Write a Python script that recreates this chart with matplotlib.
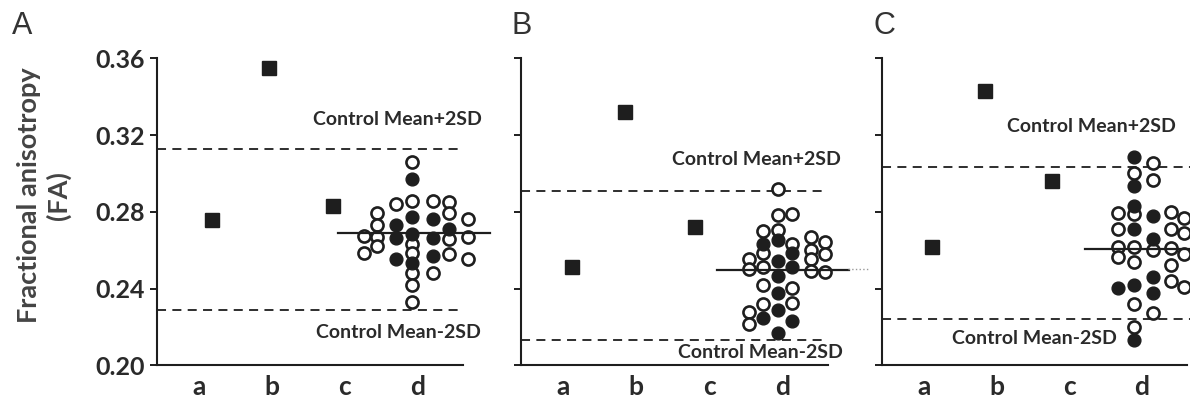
import matplotlib.pyplot as plt
import numpy as np

# categories on the x axis
cats = ["a", "b", "c", "d"]

# panel A
A_squares = [0.276, 0.355, 0.283]
A_limits = [0.313, 0.229]          # control mean +2SD, -2SD
A_median = 0.269
A_fa = [0.2675, 0.2586,
        0.2795, 0.2733, 0.2670, 0.2623,
        0.2842, 0.2733, 0.2664, 0.2555,
        0.3062, 0.2970, 0.2857, 0.2772, 0.2685, 0.2633, 0.2588, 0.2536, 0.2480, 0.2419, 0.2332,
        0.2857, 0.2762, 0.2663, 0.2571, 0.2480,
        0.2854, 0.2793, 0.2710, 0.2658, 0.2581,
        0.2762, 0.2671, 0.2553]
A_filled = [0, 0,
            0, 0, 0, 0,
            0, 1, 1, 1,
            0, 1, 0, 1, 1, 0, 0, 1, 0, 0, 0,
            0, 1, 1, 1, 0,
            0, 0, 1, 0, 0,
            0, 0, 0]
A_col = [0] * 2 + [1] * 4 + [2] * 4 + [3] * 11 + [4] * 5 + [5] * 5 + [6] * 3

# panel B
B_squares = [0.2515, 0.332, 0.2723]
B_limits = [0.2911, 0.2133]
B_median = 0.250
B_fa = [0.2553, 0.2501, 0.2280, 0.2215,
        0.2701, 0.2633, 0.2585, 0.2515, 0.2419, 0.2319, 0.2250,
        0.2922, 0.2784, 0.2706, 0.2654, 0.2547, 0.2466, 0.2376, 0.2287, 0.2168,
        0.2788, 0.2633, 0.2585, 0.2515, 0.2402, 0.2324, 0.2233,
        0.2668, 0.2602, 0.2553, 0.2494,
        0.2642, 0.2581, 0.2489]
B_filled = [0, 0, 0, 0,
            0, 1, 0, 0, 0, 0, 1,
            0, 0, 0, 1, 1, 1, 1, 1, 1,
            0, 0, 1, 1, 0, 0, 1,
            0, 0, 0, 0,
            0, 0, 0]
B_col = [0] * 4 + [1] * 7 + [2] * 9 + [3] * 7 + [4] * 4 + [5] * 3

# panel C
C_squares = [0.2619, 0.3432, 0.2961]
C_limits = [0.3033, 0.2241]
C_median = 0.2605
C_fa = [0.2797, 0.2711, 0.2615, 0.2567, 0.2404,
        0.3084, 0.3002, 0.2938, 0.2831, 0.2789, 0.2711, 0.2615, 0.2541, 0.2422, 0.2322, 0.2198, 0.2131,
        0.3054, 0.2968, 0.2780, 0.2660, 0.2602, 0.2459, 0.2378, 0.2272,
        0.2801, 0.2712, 0.2611, 0.2524, 0.2441,
        0.2771, 0.2693, 0.2581, 0.2411]
C_filled = [0, 0, 0, 0, 1,
            1, 0, 1, 1, 0, 1, 0, 0, 1, 0, 0, 1,
            0, 0, 1, 1, 0, 1, 1, 0,
            0, 0, 0, 0, 0,
            0, 0, 0, 0]
C_col = [0] * 5 + [1] * 12 + [2] * 8 + [3] * 5 + [4] * 4

INK = "#1e1e1e"
FONT = "Lato"

fig = plt.figure(figsize=(11.9, 3.99), dpi=100)

panels = [
    # letter, rect, squares, square x, limits, median, fa, filled, col, col x,
    # median span, dashed end, +2SD text (x, y), -2SD text (x, y)
    ("A", [0.1319, 0.0840, 0.2571, 0.7694], A_squares, [1.18, 1.96, 2.84], A_limits, A_median,
     A_fa, A_filled, A_col, [3.265, 3.443, 3.703, 3.923, 4.211, 4.43, 4.69],
     (2.91, 4.99), 4.6, (4.88, 0.328), (4.86, 0.217)),
    ("B", [0.4378, 0.0840, 0.2580, 0.7694], B_squares, [1.125, 1.84, 2.80], B_limits, B_median,
     B_fa, B_filled, B_col, [3.543, 3.727, 3.933, 4.129, 4.389, 4.581],
     (3.11, 4.91), 4.6, (4.80, 0.3076), (4.83, 0.207)),
    ("C", [0.7412, 0.0840, 0.2563, 0.7694], C_squares, [1.11, 1.84, 2.76], C_limits, C_median,
     C_fa, C_filled, C_col, [3.666, 3.896, 4.156, 4.399, 4.581],
     (3.21, 5.2), 5.2, (4.47, 0.3243), (3.66, 0.2143)),
]

for (letter, rect, squares, sq_x, limits, median, fa, filled, col, col_x,
     med_span, dash_end, up_txt, lo_txt) in panels:
    ax = fig.add_axes(rect)
    ax.set_xlim(0.425, 4.62)
    ax.set_ylim(0.20, 0.36)

    # control limits
    for lim in limits:
        ax.plot([0.425, dash_end], [lim, lim], color=INK, lw=1.3,
                dashes=(5, 3.5), zorder=1, clip_on=False)

    # single cases a, b, c
    ax.plot(sq_x, squares, "s", color=INK, markersize=9.5, zorder=3)

    # group d
    fa = np.array(fa)
    filled = np.array(filled, dtype=bool)
    xs = np.array(col_x)[col]
    ax.plot(xs[~filled], fa[~filled], "o", mfc="white", mec=INK, mew=1.9,
            markersize=8.7, zorder=3, clip_on=False)
    ax.plot(xs[filled], fa[filled], "o", mfc=INK, mec=INK, mew=1.0,
            markersize=9.2, zorder=3, clip_on=False)
    ax.plot(med_span, [median, median], color=INK, lw=1.6, zorder=4, clip_on=False)

    ax.text(up_txt[0], up_txt[1], "Control Mean+2SD", ha="right", va="center",
            fontsize=14, fontweight="bold", family=FONT, color="#2a2a2a")
    ax.text(lo_txt[0], lo_txt[1], "Control Mean-2SD", ha="right", va="center",
            fontsize=14, fontweight="bold", family=FONT, color="#2a2a2a")

    for side in ["top", "right"]:
        ax.spines[side].set_visible(False)
    for side in ["left", "bottom"]:
        ax.spines[side].set_linewidth(1.5)
        ax.spines[side].set_color(INK)

    ax.set_yticks([0.20, 0.24, 0.28, 0.32, 0.36])
    ax.set_xticks([1, 2, 3, 4], cats)
    ax.tick_params(axis="x", length=0, pad=7, labelsize=19, colors="#2a2a2a")
    ax.tick_params(axis="y", length=5, width=1.4, pad=4, labelsize=18, colors=INK,
                   labelcolor="#2a2a2a")
    for lab in ax.get_xticklabels() + ax.get_yticklabels():
        lab.set_family(FONT)
        lab.set_fontweight("bold")
    if letter == "A":
        ax.set_yticklabels(["%.2f" % v for v in ax.get_yticks()])
    else:
        ax.tick_params(axis="y", labelleft=False)

    fig.text(rect[0] - (145 if letter == "A" else 9) / 1190, 0.935, letter,
             fontsize=22, family="Liberation Sans", color="#333333",
             ha="left", va="center")

# faint dotted carry-over of panel B's median line
fig.lines.append(plt.Line2D([848 / 1190, 870 / 1190], [1 - 269 / 399, 1 - 269 / 399],
                            transform=fig.transFigure, color="#999999", lw=1,
                            linestyle=":"))

fig.text(0.037, 0.51, "Fractional anisotropy\n(FA)", rotation=90, ha="center",
         va="center", multialignment="center", fontsize=19.5, fontweight="bold",
         family=FONT, color="#444444", linespacing=1.25)

fig.savefig("out.png", dpi=100)
